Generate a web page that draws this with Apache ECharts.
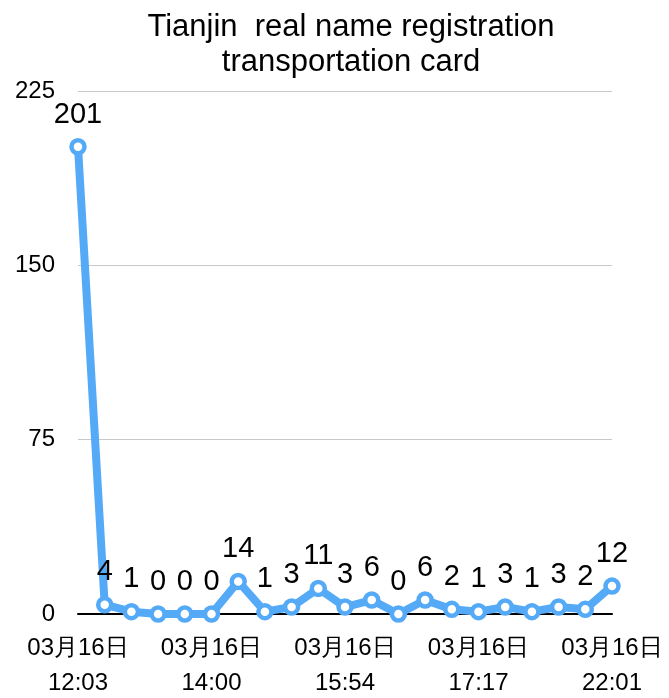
<!DOCTYPE html>
<html>
<head>
<meta charset="utf-8">
<script src="https://cdn.jsdelivr.net/npm/echarts@6/dist/echarts.min.js"></script>
<style>
  html, body { margin: 0; padding: 0; background: #fff; }
  #chart { width: 669px; height: 698px; }
</style>
</head>
<body>
<div id="chart"></div>
<script>
// only every 5th timestamp is readable in the picture
const categories = [
  "03月16日\n12:03", "", "", "", "",
  "03月16日\n14:00", "", "", "", "",
  "03月16日\n15:54", "", "", "", "",
  "03月16日\n17:17", "", "", "", "",
  "03月16日\n22:01"
];
const values = [201, 4, 1, 0, 0, 0, 14, 1, 3, 11, 3, 6, 0, 6, 2, 1, 3, 1, 3, 2, 12];
const yTicks = [0, 75, 150, 225];

const chart = echarts.init(document.getElementById("chart"));
const font = "Liberation Sans, Arial, sans-serif";

chart.setOption({
  animation: false,
  title: {
    text: "Tianjin  real name registration\ntransportation card",
    left: 346,
    textAlign: "center",
    top: 5,
    textStyle: {
      fontFamily: font,
      fontSize: 31,
      fontWeight: "normal",
      color: "#000",
      lineHeight: 35
    }
  },
  grid: { left: 78, right: 57, top: 91, bottom: 84, outerBoundsMode: "none" },
  xAxis: {
    type: "category",
    data: categories,
    boundaryGap: false,
    axisLine: { lineStyle: { color: "#000", width: 2 } },
    axisTick: { show: false },
    axisLabel: {
      interval: 0,
      fontFamily: font,
      fontSize: 24,
      color: "#000",
      lineHeight: 35,
      margin: 17
    }
  },
  yAxis: {
    type: "value",
    min: yTicks[0],
    max: yTicks[yTicks.length - 1],
    interval: yTicks[1] - yTicks[0],
    axisLine: { show: false },
    axisTick: { show: false },
    splitLine: { lineStyle: { color: "#c8c8c8", width: 1 } },
    axisLabel: {
      fontFamily: font,
      fontSize: 24,
      color: "#000",
      margin: 23
    }
  },
  series: [
    {
      type: "line",
      data: values,
      symbol: "circle",
      symbolSize: 13,
      showAllSymbol: true,
      itemStyle: { color: "#fff", borderColor: "#55aaf7", borderWidth: 4.5 },
      lineStyle: { color: "#55aaf7", width: 8 },
      label: {
        show: true,
        position: "top",
        distance: 9,
        fontFamily: font,
        fontSize: 29,
        color: "#000"
      }
    }
  ]
});
</script>
</body>
</html>
